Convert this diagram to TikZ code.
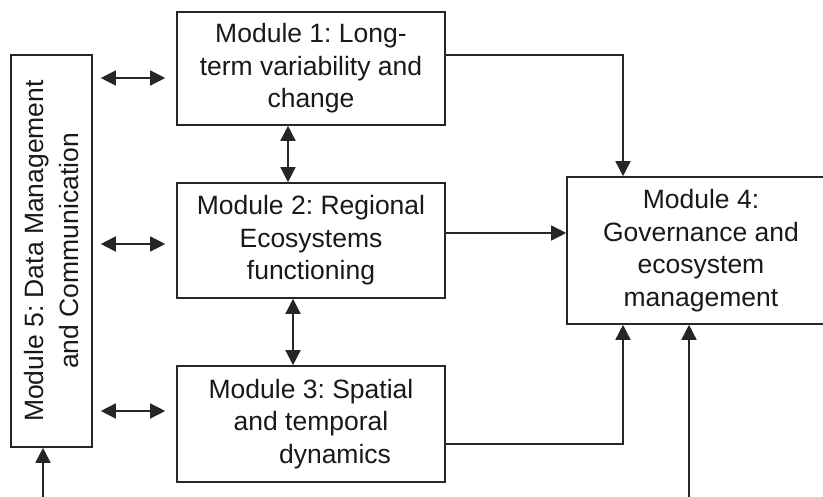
\documentclass[tikz,border=0pt]{standalone}
\usepackage{fontspec}
\setmainfont{Liberation Sans}
\usetikzlibrary{arrows.meta}
\frenchspacing
\begin{document}
\begin{tikzpicture}[x=1pt,y=-1pt,
  modbox/.style={draw=black!85,line width=1.6pt,rectangle,inner sep=0pt,align=center,
    font=\fontsize{26.5}{32.5}\selectfont,text=black!90},
  conn/.style={draw=black!85,line width=1.5pt,-{Triangle[length=15pt,width=15pt]}},
  dconn/.style={draw=black!85,line width=1.4pt,{Triangle[length=15pt,width=15pt]}-{Triangle[length=15pt,width=15pt]}}]
\useasboundingbox (0,0) rectangle (823,497);
\fill[white] (0,0) rectangle (823,497);
\node[modbox,minimum width=268pt,minimum height=113pt] (m1) at (311,68.5)
  {Module 1: Long-\\term variability and\\change};
\node[modbox,minimum width=268pt,minimum height=115pt] (m2) at (311,240.5)
  {Module 2: Regional\\Ecosystems\\functioning};
\node[modbox,minimum width=268pt,minimum height=116pt] (m3) at (311,424)
  {Module 3: Spatial\\and temporal\\\hspace*{48pt}dynamics};
\node[modbox,minimum width=268pt,minimum height=147pt] (m4) at (701,250.5)
  {Module 4:\\Governance and\\ecosystem\\management};
\node[modbox,minimum width=81pt,minimum height=392pt] (m5) at (51.5,251) {};
\node[rotate=90,align=center,font=\fontsize{26.5}{34.5}\selectfont,text=black!90] (m5t) at (m5.center)
  {Module 5: Data Management\\and Communication};
% helper coordinates
\coordinate (y1) at (0,55);
\coordinate (y2) at (0,233);
\coordinate (y3) at (0,444);
\coordinate (xr) at (623,0);
\coordinate (a1) at (0,78);
\coordinate (a2) at (0,244);
\coordinate (a3) at (0,411);
\coordinate (b5) at (43,497);
\coordinate (b4) at (689,497);
\coordinate (v1) at (288,0);
\coordinate (v2) at (293,0);
% connectors to module 4
\draw[conn] (m1.east |- y1) -- (xr |- y1) -- (xr |- m4.north);
\draw[conn] (m2.east |- y2) -- (m4.west |- y2);
\draw[conn] (m3.east |- y3) -- (xr |- y3) -- (xr |- m4.south);
\draw[conn] (b4) -- (b4 |- m4.south);
\draw[conn] (b5) -- (b5 |- m5.south);
% double arrows
\draw[dconn,shorten <=8pt,shorten >=11pt] (m5.east |- a1) -- (m1.west |- a1);
\draw[dconn,shorten <=8pt,shorten >=11pt] (m5.east |- a2) -- (m1.west |- a2);
\draw[dconn,shorten <=8pt,shorten >=11pt] (m5.east |- a3) -- (m1.west |- a3);
\draw[dconn] (v1 |- m1.south) -- (v1 |- m2.north);
\draw[dconn] (v2 |- m2.south) -- (v2 |- m3.north);
\end{tikzpicture}
\end{document}
